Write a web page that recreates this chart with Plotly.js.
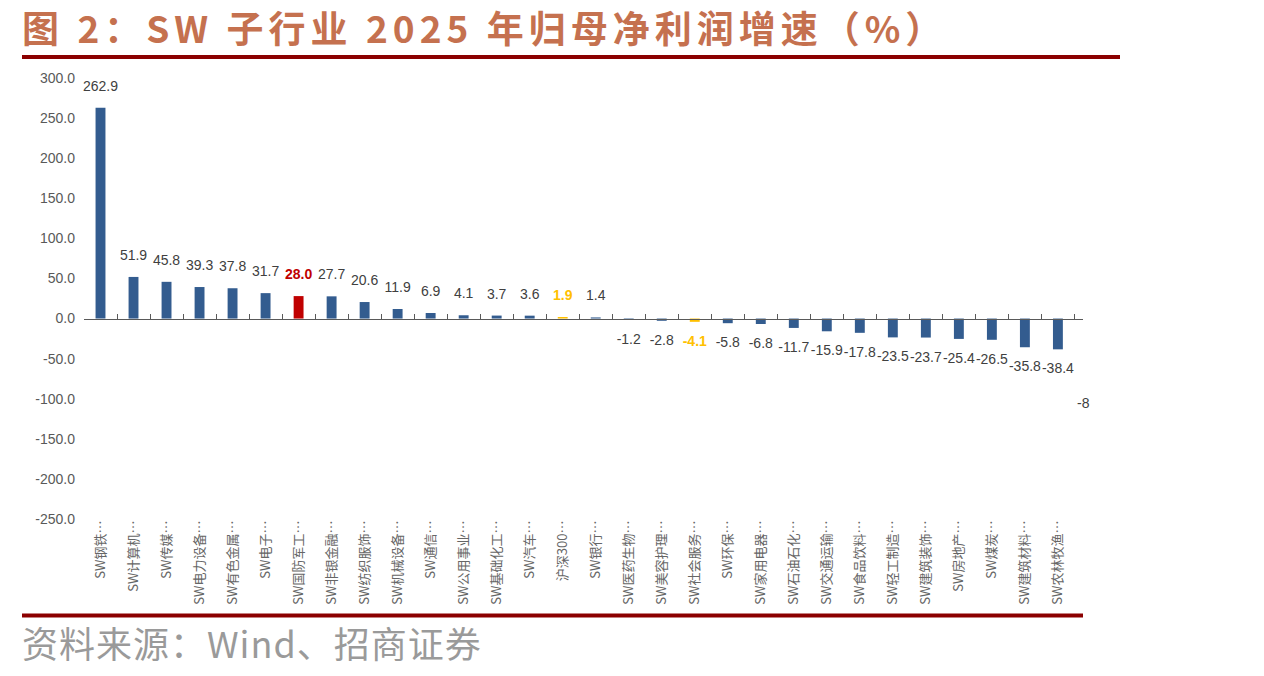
<!DOCTYPE html>
<html>
<head>
<meta charset="utf-8">
<script src="https://cdn.plot.ly/plotly-3.0.1.min.js"></script>
<style>
html,body{margin:0;padding:0;background:#fff;}
#chart{width:1264px;height:676px;}
.gtitle{letter-spacing:5px;}
</style>
</head>
<body>
<div id="chart"></div>
<script>
const categories = ['SW钢铁…','SW计算机…','SW传媒…','SW电力设备…','SW有色金属…','SW电子…','SW国防军工…','SW非银金融…','SW纺织服饰…','SW机械设备…','SW通信…','SW公用事业…','SW基础化工…','SW汽车…','沪深300…','SW银行…','SW医药生物…','SW美容护理…','SW社会服务…','SW环保…','SW家用电器…','SW石油石化…','SW交通运输…','SW食品饮料…','SW轻工制造…','SW建筑装饰…','SW房地产…','SW煤炭…','SW建筑材料…','SW农林牧渔…'];
const growth = [262.9,51.9,45.8,39.3,37.8,31.7,28.0,27.7,20.6,11.9,6.9,4.1,3.7,3.6,1.9,1.4,-1.2,-2.8,-4.1,-5.8,-6.8,-11.7,-15.9,-17.8,-23.5,-23.7,-25.4,-26.5,-35.8,-38.4];
const redHighlight = ['SW国防军工…'];
const yellowHighlight = ['沪深300…','SW社会服务…'];
const yTicks = [300,250,200,150,100,50,0,-50,-100,-150,-200,-250];
const yTickText = yTicks.map(v => v.toFixed(1));

const BLUE = '#335c8f', RED = '#c00000', YELLOW = '#ffc000', LABEL = '#404040';
const barColors = categories.map(c => redHighlight.includes(c) ? RED : (yellowHighlight.includes(c) ? YELLOW : BLUE));
const textColors = categories.map(c => redHighlight.includes(c) ? RED : (yellowHighlight.includes(c) ? YELLOW : LABEL));
const labels = growth.map((v, i) => {
  const s = v.toFixed(1);
  const c = categories[i];
  return (redHighlight.includes(c) || yellowHighlight.includes(c)) ? '<b>' + s + '</b>' : s;
});

const xRange = [-0.5, 29.76];

const traces = [
  {
    type: 'bar', x: categories, y: growth, width: 0.3,
    marker: {color: barColors}, hoverinfo: 'x+y'
  },
  {
    type: 'scatter', mode: 'markers+text', x: categories, y: growth,
    xaxis: 'x2', yaxis: 'y',
    marker: {size: 20, color: 'rgba(0,0,0,0)'},
    text: labels,
    textposition: growth.map(v => v >= 0 ? 'top center' : 'bottom center'),
    textfont: {family: 'Liberation Sans, Arial, sans-serif', size: 14, color: textColors},
    cliponaxis: false, hoverinfo: 'skip', showlegend: false
  }
];

const layout = {
  width: 1264, height: 676,
  margin: {l: 84, r: 181, t: 78, b: 157},
  paper_bgcolor: '#fff', plot_bgcolor: '#fff',
  showlegend: false,
  title: {
    text: '<b>图 2：SW 子行业 2025 年归母净利润增速（%）</b>',
    font: {family: 'Noto Sans CJK SC, sans-serif', size: 37, color: '#c5714f'},
    x: 22/1264, xanchor: 'left', xref: 'container',
    y: 1 - 30/676, yanchor: 'middle', yref: 'container'
  },
  xaxis: {
    type: 'category', categoryorder: 'array', categoryarray: categories,
    range: xRange, showline: false, showgrid: false, zeroline: false,
    ticks: '', tickangle: -90, ticklabelstandoff: -2,
    tickfont: {family: 'Noto Sans CJK SC, sans-serif', size: 13, color: '#666666'},
    fixedrange: true
  },
  xaxis2: {
    type: 'category', categoryorder: 'array', categoryarray: categories,
    overlaying: 'x', anchor: 'free', position: 250/550, matches: 'x',
    range: xRange, showline: true, linecolor: '#595959', linewidth: 1,
    ticks: 'inside', tickson: 'boundaries', ticklen: 5, tickcolor: '#595959', tickwidth: 1,
    showticklabels: false, showgrid: false, zeroline: false
  },
  yaxis: {
    range: [-250, 300], tickvals: yTicks, ticktext: yTickText,
    showline: false, showgrid: false, zeroline: false, ticks: '',
    ticklabelstandoff: 8,
    tickfont: {family: 'Liberation Sans, Arial, sans-serif', size: 14, color: '#595959'},
    fixedrange: true
  },
  shapes: [
    {type: 'line', xref: 'paper', yref: 'paper', x0: (22-84)/999, x1: (1120-84)/999, y0: (519-57)/441, y1: (519-57)/441, line: {color: '#8b0000', width: 4}},
    {type: 'line', xref: 'paper', yref: 'paper', x0: (22-84)/999, x1: 1.0, y0: (519-615.5)/441, y1: (519-615.5)/441, line: {color: '#8b0000', width: 4}}
  ],
  annotations: [
    {text: '资料来源：Wind、招商证券', xref: 'paper', yref: 'paper', x: (27-84)/999, y: (519-642)/441,
     xanchor: 'left', yanchor: 'middle', showarrow: false,
     font: {family: 'Noto Sans CJK SC, sans-serif', size: 36, color: '#9a9a9a'}},
    {text: '-8', xref: 'paper', yref: 'paper', x: 1.0, y: (519-403)/441, xanchor: 'left', xshift: -8,
     yanchor: 'middle', showarrow: false,
     font: {family: 'Liberation Sans, Arial, sans-serif', size: 14, color: LABEL}}
  ]
};

Plotly.newPlot('chart', traces, layout, {displayModeBar: false, staticPlot: true}).then(() => {
  const a = document.querySelectorAll('.annotation-text');
  if (a.length) a[0].style.letterSpacing = '1px';
});
</script>
</body>
</html>
